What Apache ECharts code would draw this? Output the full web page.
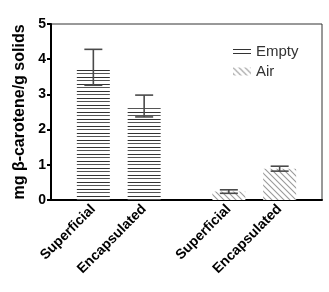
<!DOCTYPE html>
<html>
<head>
<meta charset="utf-8">
<script src="https://cdn.jsdelivr.net/npm/echarts@6/dist/echarts.min.js"></script>
<style>
  html, body { margin: 0; padding: 0; background: #fff; }
  #chart { width: 329px; height: 292px; }
</style>
</head>
<body>
<div id="chart"></div>
<script>
// datos
const conditions = ['Superficial', 'Encapsulated'];
const seriesNames = ['Empty', 'Air'];
const emptyMean = [3.77, 2.67];
const emptyErr = [0.51, 0.31];
const airMean = [0.24, 0.89];
const airErr = [0.05, 0.07];
const yTicks = [0, 1, 2, 3, 4, 5];

// 16 huecos en el eje de categorias, cada barra ocupa uno
const SLOTS = 16;
const groupStart = [2, 10];
const step = 3;

function slotIndex(group, i) {
    return groupStart[group] + i * step;
}

const slotLabels = new Array(SLOTS).fill('');
conditions.forEach((c, i) => {
    slotLabels[slotIndex(0, i)] = c;
    slotLabels[slotIndex(1, i)] = c;
});

function slotData(group, values) {
    const out = new Array(SLOTS).fill(null);
    values.forEach((v, i) => { out[slotIndex(group, i)] = v; });
    return out;
}

function errData(group, means, errs) {
    return means.map((m, i) => [slotIndex(group, i), m - errs[i], m + errs[i]]);
}

// patrones de relleno
function hLines() {
    const c = document.createElement('canvas');
    c.width = 4; c.height = 7;
    const ctx = c.getContext('2d');
    ctx.fillStyle = '#fff';
    ctx.fillRect(0, 0, 4, 7);
    ctx.fillStyle = '#333';
    ctx.fillRect(0, 0, 4, 1);
    ctx.fillStyle = '#555';
    ctx.fillRect(0, 3, 4, 1);
    return c;
}

function dLines() {
    const s = 6;
    const c = document.createElement('canvas');
    c.width = s; c.height = s;
    const ctx = c.getContext('2d');
    ctx.fillStyle = '#fff';
    ctx.fillRect(0, 0, s, s);
    ctx.strokeStyle = '#999';
    ctx.lineWidth = 1.1;
    [-s, 0, s].forEach(o => {
        ctx.beginPath();
        ctx.moveTo(o - 1, -1);
        ctx.lineTo(o + s + 1, s + 1);
        ctx.stroke();
    });
    return c;
}

const emptyFill = { image: hLines(), repeat: 'repeat' };
const airFill = { image: dLines(), repeat: 'repeat' };

function renderErr(params, api) {
    const x = api.value(0);
    const lo = api.coord([x, api.value(1)]);
    const hi = api.coord([x, api.value(2)]);
    const half = 9;
    const style = { stroke: '#4a4a4a', lineWidth: 1.6, fill: null };
    return {
        type: 'group',
        children: [
            { type: 'line', shape: { x1: lo[0], y1: lo[1], x2: hi[0], y2: hi[1] }, style },
            { type: 'line', shape: { x1: hi[0] - half, y1: hi[1], x2: hi[0] + half, y2: hi[1] }, style },
            { type: 'line', shape: { x1: lo[0] - half, y1: lo[1], x2: lo[0] + half, y2: lo[1] }, style }
        ]
    };
}

const chart = echarts.init(document.getElementById('chart'));

chart.setOption({
    animation: false,
    textStyle: { fontFamily: '"Liberation Sans", Arial, sans-serif' },
    grid: {
        left: 51, right: 7, top: 24, bottom: 92,
        show: true, borderColor: '#333', borderWidth: 1
    },
    legend: {
        orient: 'vertical',
        left: 228, top: 39,
        itemWidth: 18, itemHeight: 8,
        itemGap: 5,
        textStyle: { fontSize: 15, color: '#333' },
        data: [
            {
                name: seriesNames[0],
                icon: 'path://M0,0H18V1.2H0Z M0,4H18V5.2H0Z',
                itemStyle: { color: '#333' }
            },
            { name: seriesNames[1], icon: 'rect' }
        ]
    },
    xAxis: {
        type: 'category',
        data: slotLabels,
        boundaryGap: true,
        axisLine: { lineStyle: { color: '#000', width: 2 } },
        axisTick: {
            alignWithLabel: true,
            length: 4,
            lineStyle: { color: '#000', width: 2 },
            interval: (i, v) => v !== ''
        },
        axisLabel: {
            interval: 0, rotate: 45, margin: 7,
            fontSize: 14, fontWeight: 'bold', color: '#000'
        },
        splitLine: { show: false }
    },
    yAxis: {
        type: 'value',
        min: yTicks[0], max: yTicks[yTicks.length - 1], interval: 1,
        name: 'mg β-carotene/g solids',
        nameLocation: 'middle',
        nameGap: 21,
        nameTextStyle: { fontSize: 16, fontWeight: 'bold', color: '#000' },
        axisLine: { show: true, lineStyle: { color: '#000', width: 2 } },
        axisTick: { show: true, length: 4, lineStyle: { color: '#000', width: 2 } },
        axisLabel: { fontSize: 14, fontWeight: 'bold', color: '#000', margin: 5 },
        splitLine: { show: false }
    },
    series: [
        {
            name: seriesNames[0], type: 'bar',
            data: slotData(0, emptyMean),
            barWidth: 33, barGap: '-100%',
            itemStyle: { color: emptyFill }
        },
        {
            name: seriesNames[1], type: 'bar',
            data: slotData(1, airMean),
            barWidth: 33, barGap: '-100%',
            itemStyle: { color: airFill }
        },
        {
            type: 'custom', renderItem: renderErr,
            data: errData(0, emptyMean, emptyErr).concat(errData(1, airMean, airErr)),
            z: 5
        }
    ]
});
</script>
</body>
</html>
